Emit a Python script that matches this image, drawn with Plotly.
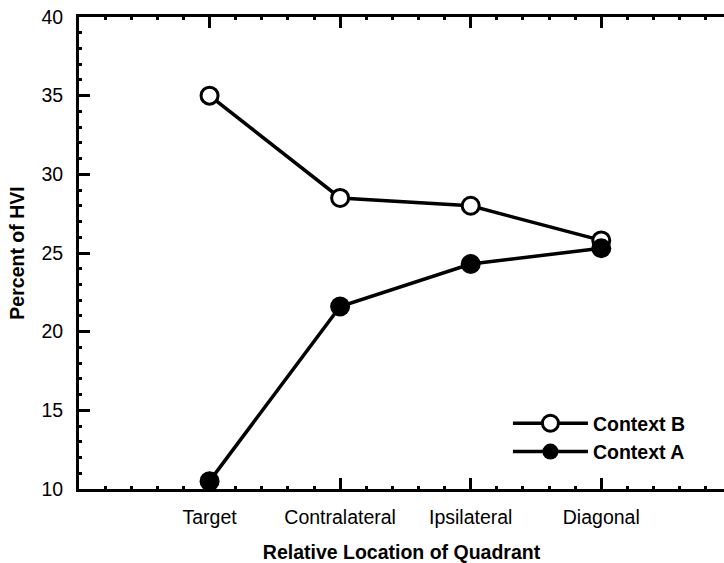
import plotly.graph_objects as go

# Quadrant categories along the x axis
categories = ["Target", "Contralateral", "Ipsilateral", "Diagonal"]
# Percent of HVI per context
context_b = [35.0, 28.5, 28.0, 25.8]
context_a = [10.5, 21.6, 24.3, 25.3]

y_ticks = [10, 15, 20, 25, 30, 35, 40]

xpos = list(range(1, len(categories) + 1))

FONT = "Liberation Sans, Arial, Helvetica, sans-serif"
FS = 19.5

fig = go.Figure()

fig.add_trace(go.Scatter(
    x=xpos, y=context_b, name="Context B", mode="lines+markers",
    line=dict(color="black", width=3.5),
    marker=dict(symbol="circle", size=17, color="white",
                line=dict(color="black", width=3)),
))
fig.add_trace(go.Scatter(
    x=xpos, y=context_a, name="Context A", mode="lines+markers",
    line=dict(color="black", width=3.5),
    marker=dict(symbol="circle", size=20, color="black",
                line=dict(color="black", width=0)),
))

fig.update_layout(
    width=724, height=563,
    margin=dict(l=79, r=0, t=17, b=74),
    paper_bgcolor="white", plot_bgcolor="white",
    font=dict(family=FONT, color="black", size=FS),
    showlegend=True,
    legend=dict(
        x=0.665, y=0.18, xanchor="left", yanchor="top",
        bgcolor="rgba(0,0,0,0)", borderwidth=0,
        font=dict(family=FONT, size=FS, color="black", weight="bold"),
        itemwidth=75, tracegroupgap=0,
    ),
    xaxis=dict(
        range=[0, 4.94], showgrid=False, zeroline=False,
        tickmode="array", tickvals=xpos, ticktext=categories,
        ticks="inside", ticklen=11, tickwidth=3, tickcolor="black",
        showline=True, linewidth=3, linecolor="black", mirror="ticks",
        minor=dict(ticks="inside", ticklen=3, tickwidth=3, dtick=0.2,
                   tick0=0, tickcolor="black", showgrid=False),
        tickfont=dict(size=FS), ticklabelstandoff=9,
        title=dict(text="<b>Relative Location of Quadrant</b>",
                   font=dict(size=FS), standoff=18),
    ),
    yaxis=dict(
        range=[10, 40], showgrid=False, zeroline=False,
        tickmode="array", tickvals=y_ticks,
        ticks="inside", ticklen=11, tickwidth=3, tickcolor="black",
        showline=True, linewidth=3, linecolor="black", mirror=False,
        minor=dict(ticks="inside", ticklen=3, tickwidth=3, dtick=1,
                   tick0=10, tickcolor="black", showgrid=False),
        tickfont=dict(size=FS), ticklabelstandoff=9,
        title=dict(text="<b>Percent of HVI</b>",
                   font=dict(size=FS), standoff=12),
    ),
    yaxis2=dict(
        overlaying="y", side="right", range=[10, 40], matches="y",
        tickmode="array", tickvals=y_ticks,
        ticks="inside", ticklen=3, tickwidth=3, tickcolor="black",
        showticklabels=False, showline=False, showgrid=False,
        zeroline=False,
    ),
)

fig.write_html("out.html")
